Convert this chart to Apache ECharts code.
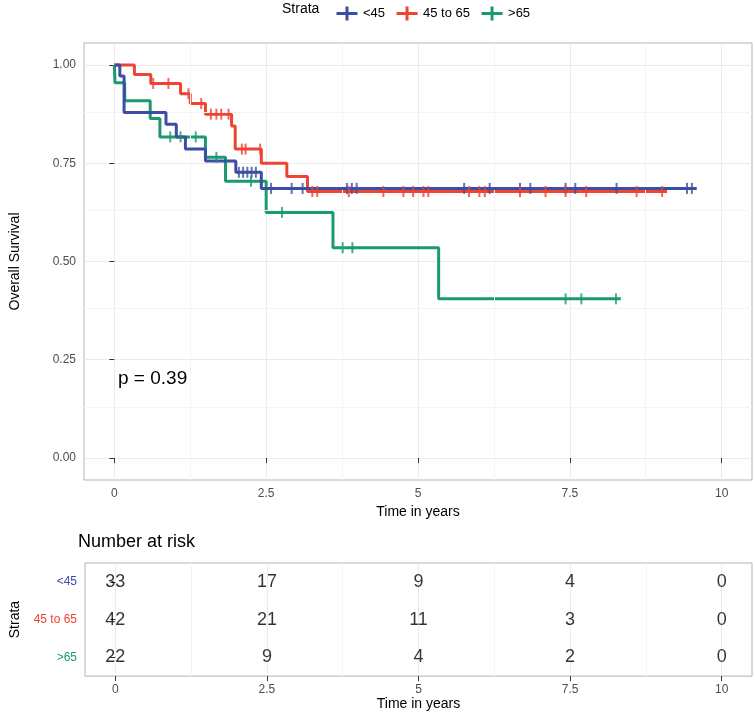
<!DOCTYPE html>
<html>
<head>
<meta charset="utf-8">
<script src="https://cdn.jsdelivr.net/npm/echarts@6/dist/echarts.min.js"></script>
<style>html,body{margin:0;padding:0;background:#fff}#c{width:755px;height:712px}</style>
</head>
<body>
<div id="c"></div>
<script>
// strata names and colours
var strata = ['<45', '45 to 65', '>65'];
var colors = ['#3c4ea3', '#ee4433', '#1a9a6f'];

// step curves: event times and survival after each time
var t1 = [0, 0.09, 0.16, 0.85, 1.02, 1.17, 1.5, 2.0, 2.42, 9.59];
var s1 = [1, 0.972, 0.879, 0.849, 0.817, 0.786, 0.756, 0.727, 0.686, 0.686];
var c1 = [2.05, 2.12, 2.19, 2.26, 2.33, 2.58, 2.92, 3.1, 3.83, 3.91, 3.99, 5.76, 6.18, 6.68, 6.85, 7.43, 7.59, 8.27, 9.43, 9.51];

var t2 = [0, 0.33, 0.6, 1.09, 1.25, 1.5, 1.93, 1.99, 2.42, 2.84, 3.18, 9.1];
var s2 = [1, 0.976, 0.953, 0.927, 0.902, 0.875, 0.845, 0.786, 0.75, 0.716, 0.678, 0.678];
var c2 = [0.64, 0.89, 1.22, 1.43, 1.59, 1.68, 1.76, 1.88, 2.1, 2.16, 2.4, 3.26, 3.34, 3.86, 4.43, 4.76, 4.92, 5.09, 5.17, 5.84, 6.01, 6.1, 6.68, 7.1, 7.43, 7.77, 8.6, 9.02];

var t3 = [0, 0.01, 0.17, 0.59, 0.75, 1.5, 1.83, 2.5, 3.6, 5.34, 8.34];
var s3 = [1, 0.955, 0.909, 0.864, 0.817, 0.765, 0.704, 0.625, 0.535, 0.405, 0.405];
var c3 = [0.92, 1.09, 1.34, 1.68, 2.25, 2.76, 3.76, 3.92, 7.43, 7.69, 8.26];

// axis ticks
var xTicks = [0, 2.5, 5, 7.5, 10];
var xMinor = [1.25, 3.75, 6.25, 8.75];
var yTicks = [0, 0.25, 0.5, 0.75, 1];
var yMinor = [0.125, 0.375, 0.625, 0.875];

// number at risk
var riskTimes = [0, 2.5, 5, 7.5, 10];
var risk1 = [33, 17, 9, 4, 0];
var risk2 = [42, 21, 11, 3, 0];
var risk3 = [22, 9, 4, 2, 0];

var curves = [[t1, s1, c1], [t2, s2, c2], [t3, s3, c3]];
var risks = [risk1, risk2, risk3];

function survAt(t, s, x) {
  var v = 1;
  for (var i = 0; i < t.length; i++) if (t[i] <= x) v = s[i];
  return v;
}

var tickPath = 'path://M0,-6 L0,6 M-9,0 L9,0';
var series = [];
curves.forEach(function (c, k) {
  series.push({
    name: strata[k], type: 'line', step: 'end', symbol: 'none',
    xAxisIndex: 0, yAxisIndex: 0,
    data: c[0].map(function (x, i) { return [x, c[1][i]]; }),
    lineStyle: { color: colors[k], width: 3 }, itemStyle: { color: colors[k] }, z: 5 - k
  });
  series.push({
    type: 'scatter', symbol: 'rect', symbolSize: [2, 11],
    xAxisIndex: 0, yAxisIndex: 0,
    data: c[2].map(function (x) { return [x, survAt(c[0], c[1], x)]; }),
    itemStyle: { color: colors[k] }, silent: true, z: 6
  });
  series.push({
    type: 'scatter', symbolSize: 0, xAxisIndex: 1, yAxisIndex: 1,
    data: riskTimes.map(function (x, i) { return [x, strata[k], risks[k][i]]; }),
    label: { show: true, position: 'inside', color: '#000', fontSize: 18,
      formatter: function (p) { return p.value[2]; } }
  });
});

// minor grid lines drawn as markLines on a silent helper series
function minorLines(xa, ya, xs, ys) {
  var d = [];
  xs.forEach(function (v) { d.push({ xAxis: v }); });
  ys.forEach(function (v) { d.push({ yAxis: v }); });
  return { type: 'line', data: [], xAxisIndex: xa, yAxisIndex: ya, silent: true, z: 0,
    markLine: { symbol: 'none', silent: true, label: { show: false }, animation: false,
      lineStyle: { color: '#f4f4f4', type: 'solid', width: 1 }, data: d } };
}
series.push(minorLines(0, 0, xMinor, yMinor));
series.push(minorLines(1, 1, xMinor, []));

var lab = { color: '#4d4d4d', fontSize: 12, fontFamily: 'Liberation Sans' };
var split = { show: true, lineStyle: { color: '#ebebeb', width: 1 } };
var tick = { show: true, lineStyle: { color: '#333' } };

function xAxisDef(g) {
  return { type: 'value', gridIndex: g, min: -0.5, max: 10.5,
    name: 'Time in years', nameLocation: 'middle', nameGap: 18, nameTextStyle: { fontSize: 14, color: '#000' },
    axisLine: { show: false },
    axisTick: Object.assign({ customValues: xTicks }, tick),
    axisLabel: Object.assign({ customValues: xTicks, formatter: function (v) { return String(v); } }, lab),
    splitLine: split };
}

var option = {
  animation: false,
  textStyle: { fontFamily: 'Liberation Sans' },
  legend: {
    top: 0, left: 330, itemGap: 10, itemWidth: 22, itemHeight: 14,
    data: strata.map(function (n, k) { return { name: n, icon: tickPath, itemStyle: { color: colors[k], borderColor: colors[k], borderWidth: 3 } }; }),
    textStyle: { fontSize: 13, color: '#000' }
  },
  graphic: [
    { type: 'text', left: 282, top: 2, style: { text: 'Strata', fill: '#000', font: '14px Liberation Sans' } },
    { type: 'text', left: 78, top: 533, style: { text: 'Number at risk', font: '18px Liberation Sans', fill: '#000' } },
    { type: 'text', left: 118, top: 369, style: { text: 'p = 0.39', font: '19px Liberation Sans', fill: '#000' } }
  ],
  grid: [
    { left: 78, right: 3, top: 43, bottom: 232, show: true, borderColor: '#b3b3b3', borderWidth: 1 },
    { left: 78, right: 3, top: 563, bottom: 33, show: true, borderColor: '#b3b3b3', borderWidth: 1 }
  ],
  xAxis: [xAxisDef(0), xAxisDef(1)],
  yAxis: [
    { type: 'value', gridIndex: 0, min: -0.056, max: 1.056,
      name: 'Overall Survival', nameLocation: 'middle', nameGap: 62, nameTextStyle: { fontSize: 14, color: '#000' },
      axisLine: { show: false },
      axisTick: Object.assign({ customValues: yTicks }, tick),
      axisLabel: Object.assign({ customValues: yTicks, formatter: function (v) { return v.toFixed(2); } }, lab),
      splitLine: split },
    { type: 'category', gridIndex: 1, inverse: true, data: strata,
      name: 'Strata', nameLocation: 'middle', nameGap: 63, nameTextStyle: { fontSize: 14, color: '#000' },
      axisLine: { show: false }, axisTick: { show: true, alignWithLabel: true, lineStyle: { color: '#333' } },
      axisLabel: { fontSize: 12, fontFamily: 'Liberation Sans',
        color: function (v) { return colors[strata.indexOf(v)]; } },
      splitLine: { show: false } }
  ],
  series: series
};

var chart = echarts.init(document.getElementById('c'));
chart.setOption(option);
</script>
</body>
</html>
